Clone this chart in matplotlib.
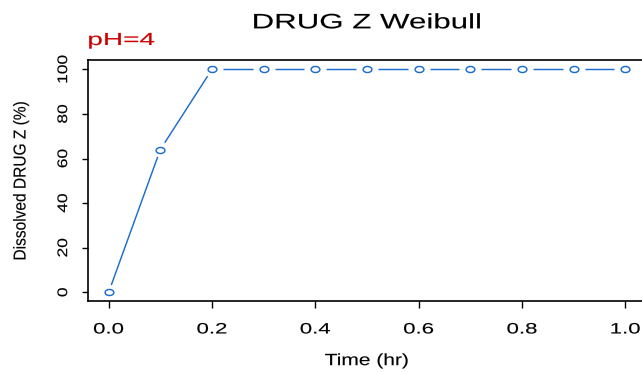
import numpy as np
import matplotlib
matplotlib.use("Agg")
import matplotlib.pyplot as plt
from matplotlib.path import Path
from matplotlib.transforms import Affine2D
from matplotlib.patheffects import AbstractPathEffect

plt.rcParams['font.family'] = ['Liberation Sans', 'DejaVu Sans']

# Dissolution profile
time_hr = [0.0, 0.1, 0.2, 0.3, 0.4, 0.5, 0.6, 0.7, 0.8, 0.9, 1.0]
dissolved = [0, 64, 100, 100, 100, 100, 100, 100, 100, 100, 100]

x_ticks = [0.0, 0.2, 0.4, 0.6, 0.8, 1.0]
x_tick_labels = ["0.0", "0.2", "0.4", "0.6", "0.8", "1.0"]
y_ticks = [0, 20, 40, 60, 80, 100]
y_tick_labels = ["0", "20", "40", "60", "80", "100"]

title = "DRUG Z Weibull"
subtitle = "pH=4"
x_label = "Time (hr)"
y_label = "Dissolved DRUG Z (%)"

BLUE = "#1c6dcc"
RED = "#cc0000"
SX = 1.45      # horizontal stretch of the device
GAP = 7.5      # gap between line ends and point symbols (px)


class Stretch(AbstractPathEffect):
    """Stretch glyphs along their baseline about an anchor fraction of the ink,
    optionally thickening them with a thin outline in the fill colour."""

    def __init__(self, sx, anchor=0.5, weight=0.1):
        super().__init__()
        self.sx = sx
        self.anchor = anchor
        self.weight = weight

    def draw_path(self, renderer, gc, tpath, affine, rgbFace=None):
        ext = tpath.get_extents()
        cx = ext.x0 + self.anchor * ext.width
        t = Affine2D().translate(-cx, 0).scale(self.sx, 1).translate(cx, 0) + affine
        gc0 = renderer.new_gc()
        gc0.copy_properties(gc)
        if self.weight > 0 and rgbFace is not None:
            gc0.set_linewidth(self.weight)
            gc0.set_foreground(rgbFace)
        renderer.draw_path(gc0, tpath, t, rgbFace)
        gc0.restore()


W, H = 642, 372
fig = plt.figure(figsize=(W / 100, H / 100), dpi=100)
left, right, top, bottom = 88, 646, 60.4, 301.2
ax = fig.add_axes([left / W, (H - bottom) / H, (right - left) / W, (bottom - top) / H])
ax.set_xlim(-0.04, 1.04)
ax.set_ylim(-4, 104)

for s in ax.spines.values():
    s.set_linewidth(1.2)
    s.set_color("black")

ax.set_xticks(x_ticks)
ax.set_xticklabels(x_tick_labels)
ax.set_yticks(y_ticks)
ax.set_yticklabels(y_tick_labels)
ax.tick_params(axis='x', direction='out', length=5, width=1.0, pad=10.3, labelsize=10.8)
ax.tick_params(axis='y', direction='out', length=4.5, width=1.0, pad=8.4, labelsize=10.0,
               labelrotation=90)
for lab in ax.get_xticklabels():
    lab.set_path_effects([Stretch(1.48)])
for lab in ax.get_yticklabels():
    lab.set_path_effects([Stretch(1.25)])
    lab.set_va('center')

# Open ellipse symbol (circle on a horizontally stretched device)
theta = np.linspace(0, 2 * np.pi, 73)
ellipse = Path(np.column_stack([SX * np.cos(theta), np.sin(theta)]), closed=True)

# Connecting segments with gaps around the symbols
xy = np.column_stack([time_hr, dissolved]).astype(float)
disp = ax.transData.transform(xy)
inv = ax.transData.inverted()
scale = np.array([SX, 1.0])
for i in range(len(xy) - 1):
    p0, p1 = disp[i], disp[i + 1]
    d = (p1 - p0) / scale
    L = np.hypot(*d)
    if L <= 2 * GAP:
        continue
    u = d / L
    a = p0 + u * GAP * scale
    b = p1 - u * GAP * scale
    seg = inv.transform(np.array([a, b]))
    ax.plot(seg[:, 0], seg[:, 1], color=BLUE, lw=1.05, solid_capstyle='butt')

ax.plot(time_hr, dissolved, linestyle='none', marker=ellipse, markersize=6.3,
        markerfacecolor='none', markeredgecolor=BLUE, markeredgewidth=1.05)

t = ax.set_title(title, fontsize=15, pad=23.1)
t.set_path_effects([Stretch(1.5)])

ax.text(0.0, 1 + (top - 45) / (bottom - top), subtitle, transform=ax.transAxes,
        ha='left', va='baseline', fontsize=12.6, color=RED,
        path_effects=[Stretch(1.6, anchor=0.0)])

xl = ax.set_xlabel(x_label, fontsize=11.7)
ax.xaxis.set_label_coords(0.5, (bottom - 353.1) / (bottom - top))
xl.set_path_effects([Stretch(1.29)])

yl = ax.set_ylabel(y_label, fontsize=12.4)
ax.yaxis.set_label_coords((28.5 - left) / (right - left), 0.5)
yl.set_path_effects([Stretch(0.9)])

fig.savefig("out.png", dpi=100)
